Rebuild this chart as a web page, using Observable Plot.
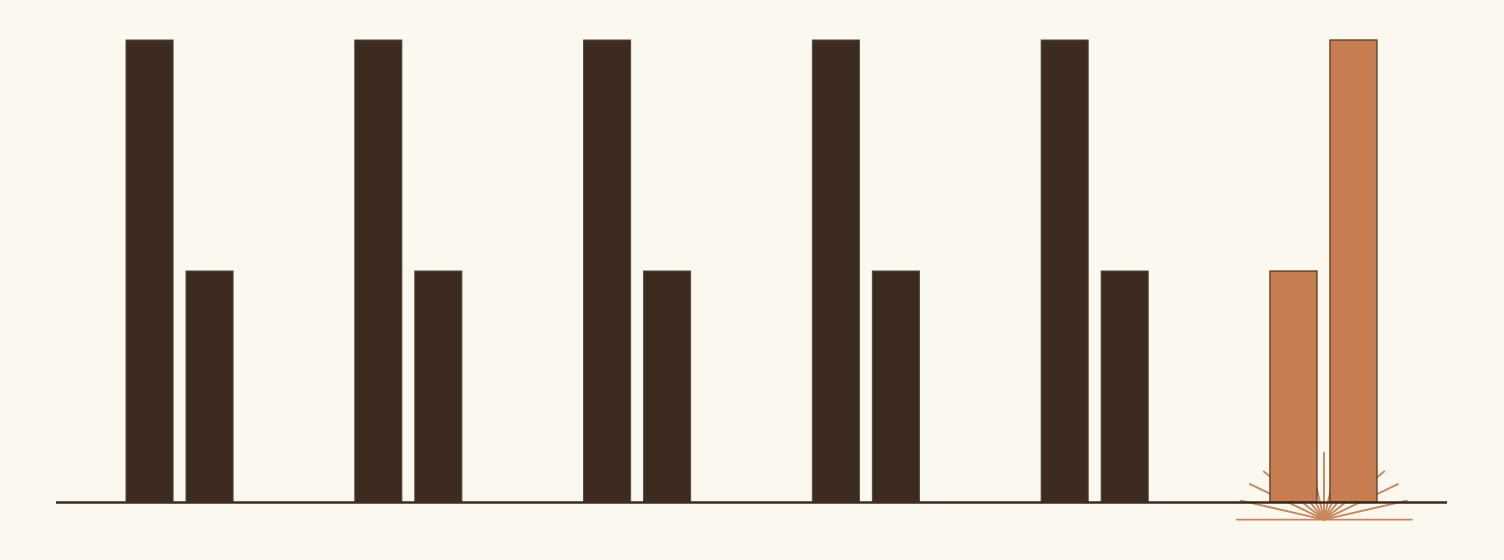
<!DOCTYPE html>
<html>
<head>
<meta charset="utf-8">
<script src="https://cdn.jsdelivr.net/npm/d3@7"></script>
<script src="https://cdn.jsdelivr.net/npm/@observablehq/plot@0.6"></script>
<style>
  html, body { margin: 0; padding: 0; background: #fbf8ef; }
  #chart { width: 1504px; height: 560px; }
</style>
</head>
<body>
<div id="chart"></div>
<script>
// ---- data ----
const groups = ["A", "B", "C", "D", "E", "F"];
const firstValues = [2, 2, 2, 2, 2, 1];
const secondValues = [1, 1, 1, 1, 1, 2];
const highlightGroup = "F";

// decorative burst under the highlighted group (angles in degrees, lengths in px)
const rayAngles = [-90, -77.1, -64.3, -51.4, -38.6, -25.7, -12.9, 0, 12.9, 25.7, 38.6, 51.4, 64.3, 77.1, 90];
const rayLengths = [87, 85, 82, 77, 73, 70, 68, 67, 68, 70, 73, 77, 82, 85, 88];
const rayOriginY = -0.074;

// ---- build tables ----
const first = groups.map((g, i) => ({group: g, value: firstValues[i]}));
const second = groups.map((g, i) => ({group: g, value: secondValues[i]}));
const rays = rayAngles.map((a, i) => ({group: highlightGroup, y: rayOriginY, rotate: a, length: rayLengths[i]}));

const dark = "#3d2b1f";
const darkStroke = "#4a4f3f";
const orange = "#c77d50";
const orangeStroke = "#4a3322";
const rayColor = "#c9865a";

const isHi = d => d.group === highlightGroup;
const notHi = d => d.group !== highlightGroup;

const line = {draw(context, l) { context.moveTo(0, 0); context.lineTo(0, -l); }};

const chart = Plot.plot({
  width: 1504,
  height: 560,
  marginLeft: 56,
  marginRight: 57,
  marginTop: 40,
  marginBottom: 58,
  style: {background: "#fbf8ef", overflow: "visible"},
  x: {domain: groups, paddingInner: 0.532, paddingOuter: 0.306, round: false, axis: null},
  y: {domain: [0, 2], axis: null},
  length: {type: "identity"},
  marks: [
    Plot.vector(rays, {x: "group", y: "y", rotate: "rotate", length: "length", anchor: "start", shape: line, stroke: rayColor, strokeWidth: 1.9}),
    Plot.barY(first, {filter: notHi, x: "group", y: "value", insetRight: 60, fill: dark, stroke: darkStroke, strokeWidth: 1}),
    Plot.barY(second, {filter: notHi, x: "group", y: "value", insetLeft: 60, fill: dark, stroke: darkStroke, strokeWidth: 1}),
    Plot.barY(first, {filter: isHi, x: "group", y: "value", insetRight: 60, fill: orange, stroke: orangeStroke, strokeWidth: 1.2}),
    Plot.barY(second, {filter: isHi, x: "group", y: "value", insetLeft: 60, fill: orange, stroke: orangeStroke, strokeWidth: 1.2}),
    Plot.ruleY([0], {stroke: dark, strokeWidth: 2.5})
  ]
});
document.getElementById("chart").appendChild(chart);
</script>
</body>
</html>
